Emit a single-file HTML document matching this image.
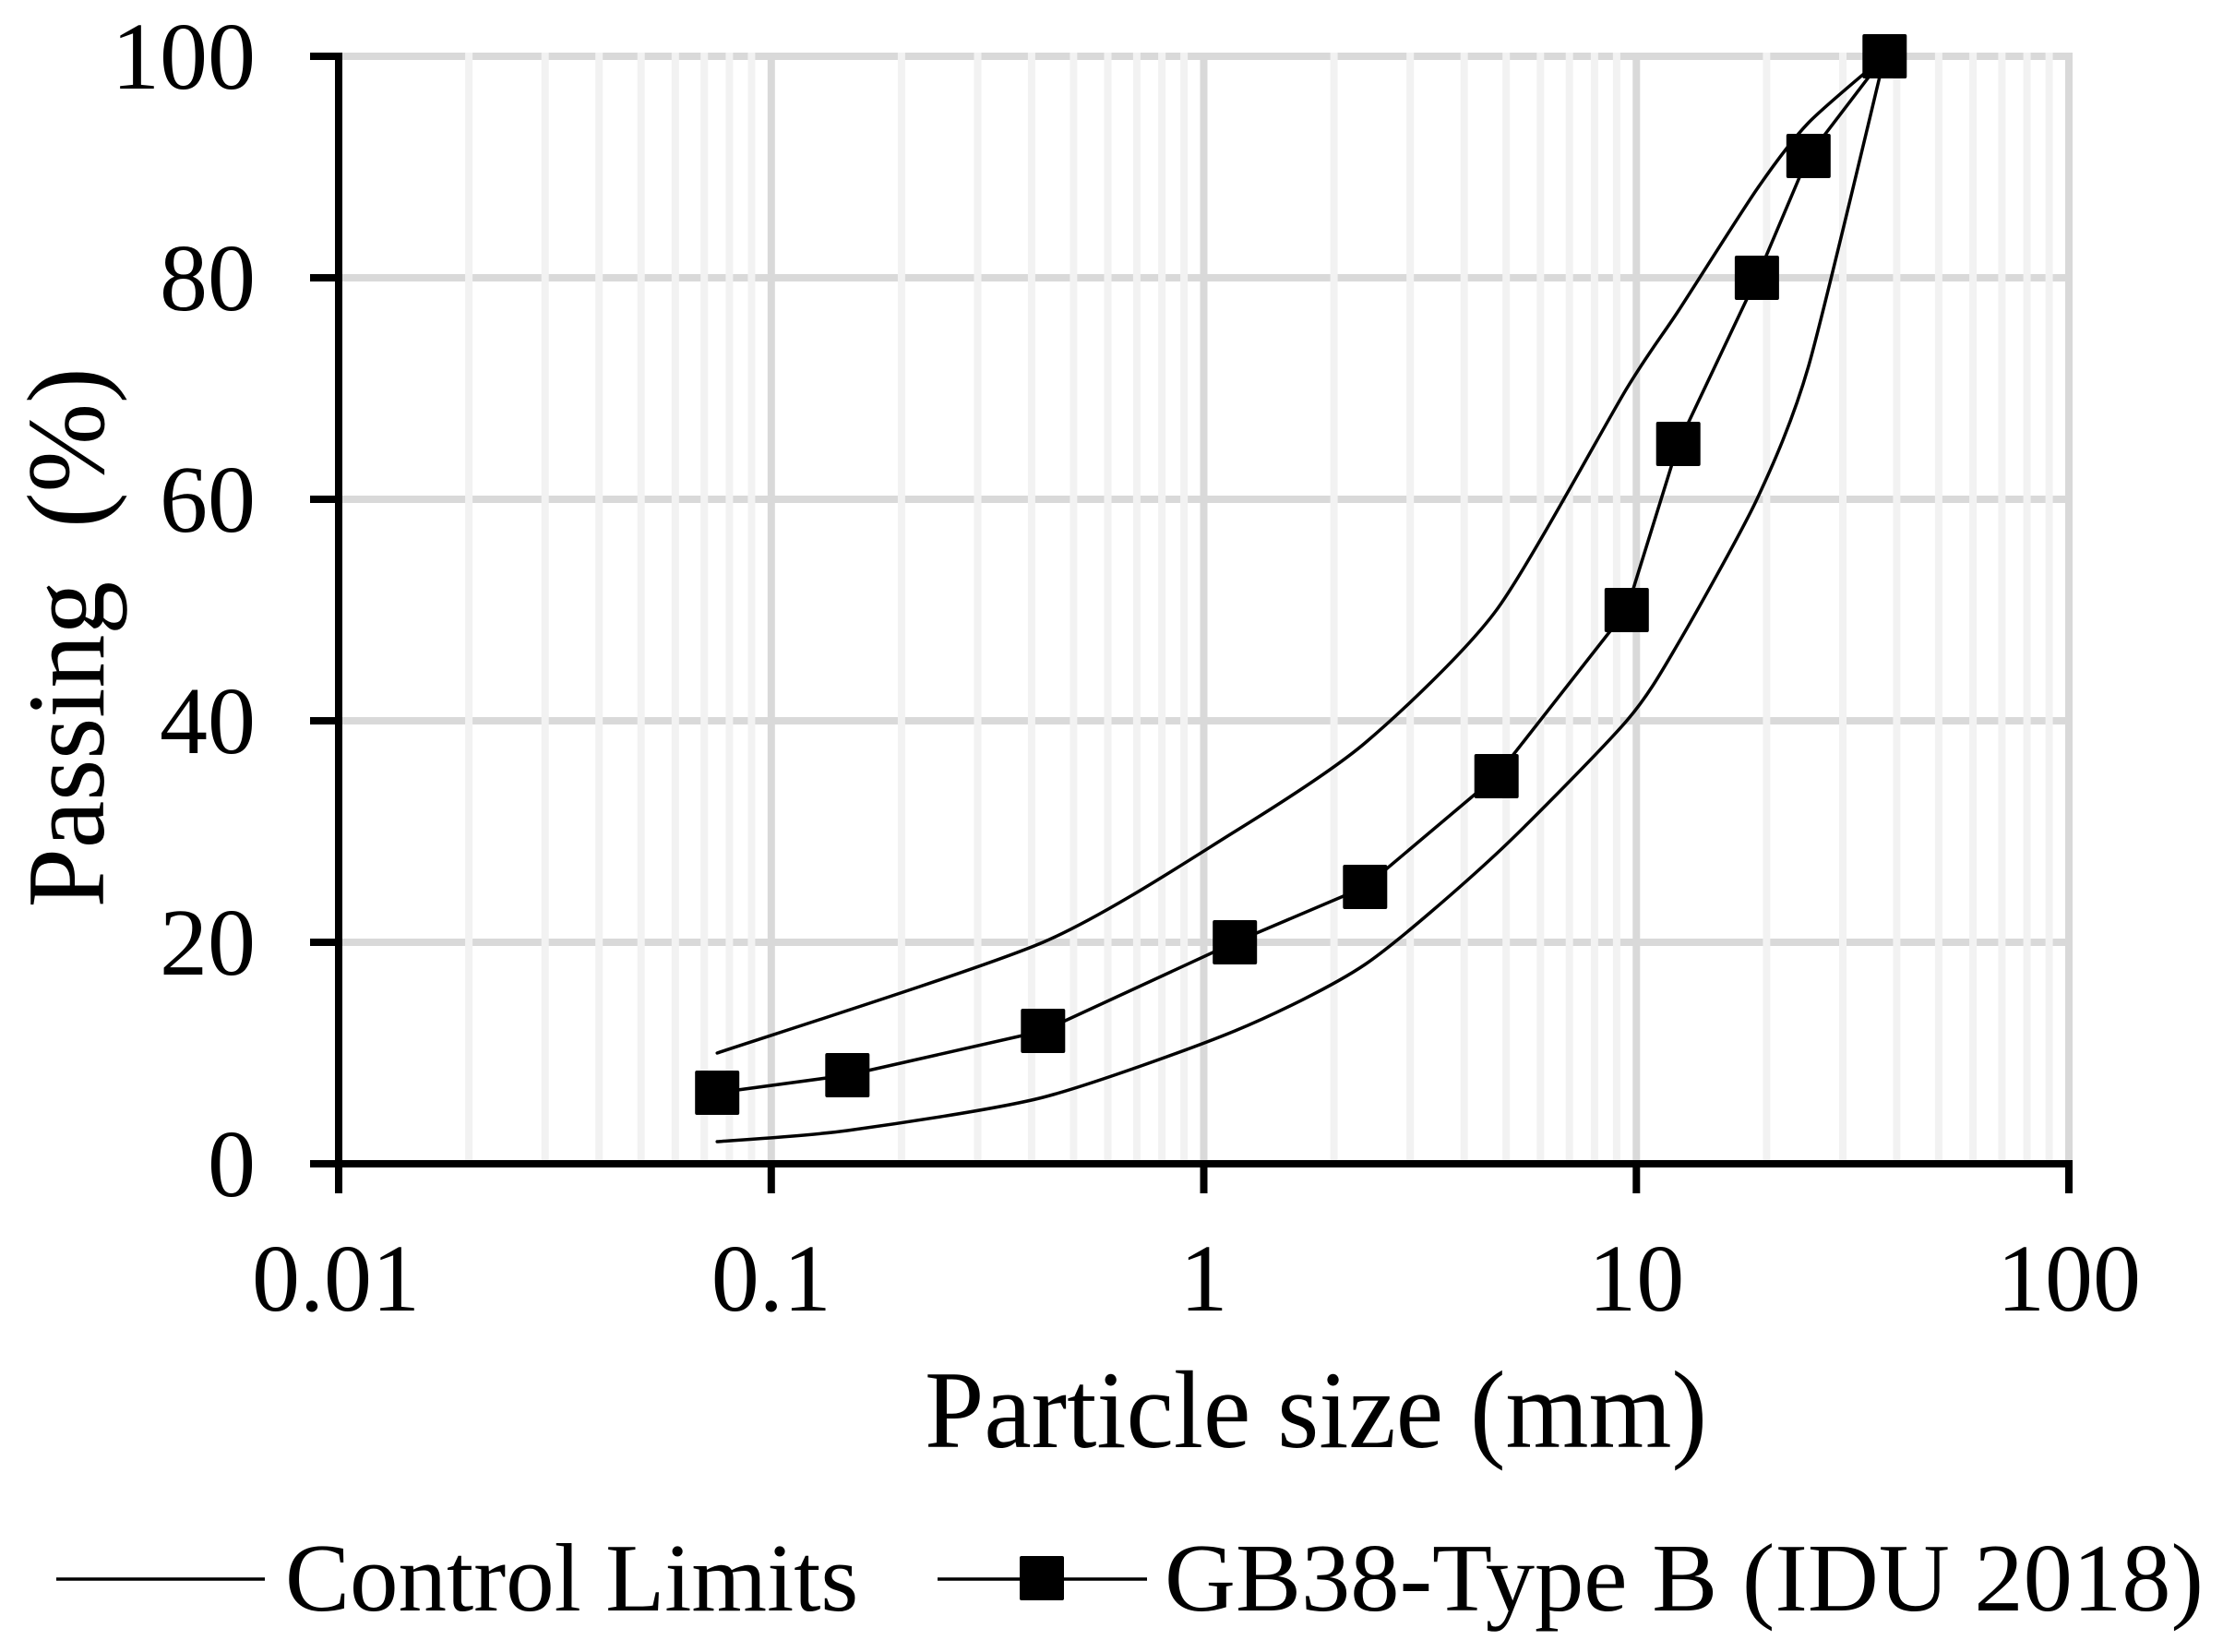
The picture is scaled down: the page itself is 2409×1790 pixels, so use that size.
<!DOCTYPE html>
<html>
<head>
<meta charset="utf-8">
<style>
  html, body { margin: 0; padding: 0; background: #ffffff; }
  svg { display: block; }
  text { font-family: "Liberation Serif", "Times New Roman", serif; fill: #000; }
</style>
</head>
<body>
<svg id="chart" width="2409" height="1790" viewBox="0 0 2409 1790" xmlns="http://www.w3.org/2000/svg">
  <rect x="0" y="0" width="2409" height="1790" fill="#ffffff"/>

  <!-- horizontal major gridlines -->
  <g stroke="#d9d9d9" stroke-width="8">
    <line x1="367" y1="61" x2="2246" y2="61"/>
    <line x1="367" y1="301" x2="2246" y2="301"/>
    <line x1="367" y1="541" x2="2246" y2="541"/>
    <line x1="367" y1="781" x2="2246" y2="781"/>
    <line x1="367" y1="1021" x2="2246" y2="1021"/>
  </g>
  <!-- vertical minor gridlines -->
  <g stroke="#f2f2f2" stroke-width="8">
    <line x1="508.1" y1="57" x2="508.1" y2="1257"/>
    <line x1="590.7" y1="57" x2="590.7" y2="1257"/>
    <line x1="649.2" y1="57" x2="649.2" y2="1257"/>
    <line x1="694.7" y1="57" x2="694.7" y2="1257"/>
    <line x1="731.8" y1="57" x2="731.8" y2="1257"/>
    <line x1="763.2" y1="57" x2="763.2" y2="1257"/>
    <line x1="790.4" y1="57" x2="790.4" y2="1257"/>
    <line x1="814.4" y1="57" x2="814.4" y2="1257"/>
    <line x1="976.9" y1="57" x2="976.9" y2="1257"/>
    <line x1="1059.5" y1="57" x2="1059.5" y2="1257"/>
    <line x1="1117.9" y1="57" x2="1117.9" y2="1257"/>
    <line x1="1163.4" y1="57" x2="1163.4" y2="1257"/>
    <line x1="1200.5" y1="57" x2="1200.5" y2="1257"/>
    <line x1="1231.9" y1="57" x2="1231.9" y2="1257"/>
    <line x1="1259.1" y1="57" x2="1259.1" y2="1257"/>
    <line x1="1283.1" y1="57" x2="1283.1" y2="1257"/>
    <line x1="1445.6" y1="57" x2="1445.6" y2="1257"/>
    <line x1="1528.2" y1="57" x2="1528.2" y2="1257"/>
    <line x1="1586.7" y1="57" x2="1586.7" y2="1257"/>
    <line x1="1632.2" y1="57" x2="1632.2" y2="1257"/>
    <line x1="1669.3" y1="57" x2="1669.3" y2="1257"/>
    <line x1="1700.7" y1="57" x2="1700.7" y2="1257"/>
    <line x1="1727.9" y1="57" x2="1727.9" y2="1257"/>
    <line x1="1751.9" y1="57" x2="1751.9" y2="1257"/>
    <line x1="1914.4" y1="57" x2="1914.4" y2="1257"/>
    <line x1="1997.0" y1="57" x2="1997.0" y2="1257"/>
    <line x1="2055.4" y1="57" x2="2055.4" y2="1257"/>
    <line x1="2100.9" y1="57" x2="2100.9" y2="1257"/>
    <line x1="2138.1" y1="57" x2="2138.1" y2="1257"/>
    <line x1="2169.4" y1="57" x2="2169.4" y2="1257"/>
    <line x1="2196.6" y1="57" x2="2196.6" y2="1257"/>
    <line x1="2220.6" y1="57" x2="2220.6" y2="1257"/>
  </g>
  <!-- vertical major gridlines -->
  <g stroke="#d9d9d9" stroke-width="8">
    <line x1="835.8" y1="57" x2="835.8" y2="1257"/>
    <line x1="1304.5" y1="57" x2="1304.5" y2="1257"/>
    <line x1="1773.3" y1="57" x2="1773.3" y2="1257"/>
    <line x1="2242" y1="57" x2="2242" y2="1257"/>
  </g>

  <!-- axes -->
  <g stroke="#000" stroke-width="8" stroke-linecap="butt">
    <line x1="367" y1="57" x2="367" y2="1293"/>
    <line x1="336" y1="1261" x2="2246" y2="1261"/>
    <line x1="336" y1="61" x2="367" y2="61"/>
    <line x1="336" y1="301" x2="367" y2="301"/>
    <line x1="336" y1="541" x2="367" y2="541"/>
    <line x1="336" y1="781" x2="367" y2="781"/>
    <line x1="336" y1="1021" x2="367" y2="1021"/>
    <line x1="835.8" y1="1261" x2="835.8" y2="1293"/>
    <line x1="1304.5" y1="1261" x2="1304.5" y2="1293"/>
    <line x1="1773.3" y1="1261" x2="1773.3" y2="1293"/>
    <line x1="2242" y1="1257" x2="2242" y2="1293"/>
  </g>

  <!-- control limits -->
  <g fill="none" stroke="#000" stroke-width="3.5" stroke-linejoin="round" stroke-linecap="round">
    <polyline class="smooth" points="777.2,1141 1130.3,1021 1338.2,901 1479.3,805 1621.7,661 1762.8,421 1818.7,337 1903.9,205 1959.8,133 2042.3,61"/>
    <polyline class="smooth" points="777.2,1237 918.3,1225 1130.3,1189 1338.2,1117 1479.3,1045 1621.7,925 1762.8,781 1818.7,697 1903.9,541 1959.8,397 2042.3,61"/>
    <polyline points="777.2,1184 918.3,1165 1130.3,1117 1338.2,1021 1479.3,961 1621.7,841 1762.8,661 1818.7,481 1903.9,301 1959.8,169 2042.3,61"/>
  </g>

  <!-- GB38 markers -->
  <g fill="#000">
    <rect x="753.2" y="1160" width="48" height="48" rx="2"/>
    <rect x="894.3" y="1141" width="48" height="48" rx="2"/>
    <rect x="1106.3" y="1093" width="48" height="48" rx="2"/>
    <rect x="1314.2" y="997" width="48" height="48" rx="2"/>
    <rect x="1455.3" y="937" width="48" height="48" rx="2"/>
    <rect x="1597.7" y="817" width="48" height="48" rx="2"/>
    <rect x="1738.8" y="637" width="48" height="48" rx="2"/>
    <rect x="1794.7" y="457" width="48" height="48" rx="2"/>
    <rect x="1879.9" y="277" width="48" height="48" rx="2"/>
    <rect x="1935.8" y="145" width="48" height="48" rx="2"/>
    <rect x="2018.3" y="37" width="48" height="48" rx="2"/>
  </g>

  <!-- y tick labels -->
  <g font-size="104" text-anchor="end">
    <text x="277" y="96">100</text>
    <text x="277" y="336">80</text>
    <text x="277" y="576">60</text>
    <text x="277" y="816">40</text>
    <text x="277" y="1056">20</text>
    <text x="277" y="1296">0</text>
  </g>

  <!-- x tick labels -->
  <g font-size="104" text-anchor="middle">
    <text x="364" y="1420">0.01</text>
    <text x="835.8" y="1420">0.1</text>
    <text x="1304.5" y="1420">1</text>
    <text x="1773.3" y="1420">10</text>
    <text x="2242" y="1420">100</text>
  </g>

  <!-- axis titles -->
  <text x="1002" y="1568" font-size="120" textLength="848" lengthAdjust="spacingAndGlyphs">Particle size (mm)</text>
  <text transform="translate(112,691) rotate(-90)" font-size="120" text-anchor="middle" textLength="585" lengthAdjust="spacingAndGlyphs">Passing&#160;&#160;(%)</text>

  <!-- legend -->
  <g stroke="#000" stroke-width="3.5">
    <line x1="61" y1="1711" x2="287" y2="1711"/>
    <line x1="1016" y1="1711" x2="1243" y2="1711"/>
  </g>
  <rect x="1105" y="1686" width="48" height="48" rx="2" fill="#000"/>
  <text x="309" y="1745" font-size="105">Control Limits</text>
  <text x="1262" y="1745" font-size="105" textLength="1126" lengthAdjust="spacingAndGlyphs">GB38-Type B (IDU 2018)</text>
</svg>
<script>
(function(){
  var k = 0.12;
  var polys = document.querySelectorAll('polyline.smooth');
  for (var i = 0; i < polys.length; i++) {
    var pl = polys[i];
    var pts = pl.getAttribute('points').trim().split(/\s+/).map(function(s){var a=s.split(',');return [parseFloat(a[0]),parseFloat(a[1])];});
    var d = 'M' + pts[0][0] + ',' + pts[0][1];
    for (var j = 0; j < pts.length - 1; j++) {
      var p0 = pts[Math.max(j-1,0)], p1 = pts[j], p2 = pts[j+1], p3 = pts[Math.min(j+2, pts.length-1)];
      var c1x = p1[0] + (p2[0]-p0[0])*k, c1y = p1[1] + (p2[1]-p0[1])*k;
      var c2x = p2[0] - (p3[0]-p1[0])*k, c2y = p2[1] - (p3[1]-p1[1])*k;
      d += ' C' + c1x.toFixed(1) + ',' + c1y.toFixed(1) + ' ' + c2x.toFixed(1) + ',' + c2y.toFixed(1) + ' ' + p2[0] + ',' + p2[1];
    }
    var path = document.createElementNS('http://www.w3.org/2000/svg','path');
    path.setAttribute('d', d);
    pl.parentNode.replaceChild(path, pl);
  }
})();
</script>
</body>
</html>
